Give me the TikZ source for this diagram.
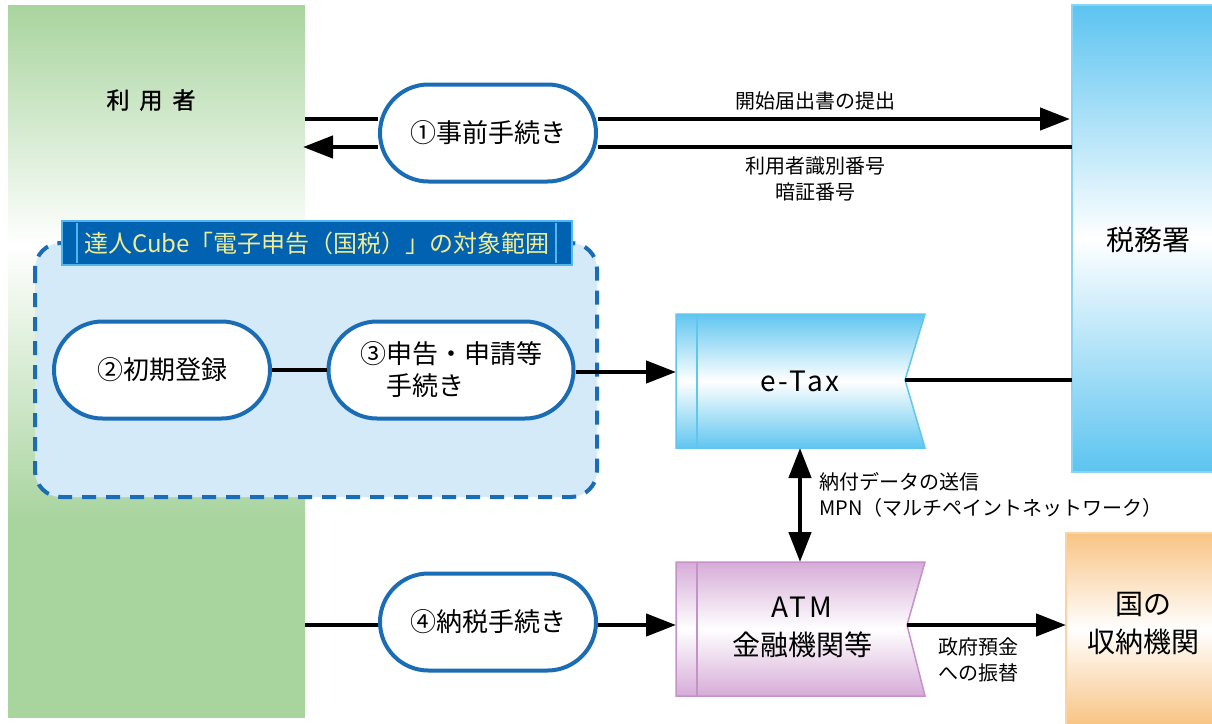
\documentclass[tikz,border=0pt]{standalone}
\usepackage{fontspec}
\setmainfont{Noto Sans CJK JP}
\newfontfamily\jpbold[FakeBold=1.2]{Noto Sans CJK JP}
\usetikzlibrary{arrows.meta,shapes.misc}
\definecolor{ugreen}{RGB}{168,212,158}
\definecolor{tblue}{RGB}{92,196,240}
\definecolor{tblueb}{RGB}{140,212,244}
\definecolor{orng}{RGB}{248,196,132}
\definecolor{orngb}{RGB}{250,212,165}
\definecolor{purp}{RGB}{214,172,216}
\definecolor{purpb}{RGB}{196,146,200}
\definecolor{pillb}{RGB}{26,108,181}
\definecolor{areaf}{RGB}{212,234,248}
\definecolor{titlef}{RGB}{0,98,176}
\definecolor{titleb}{RGB}{80,182,236}
\definecolor{titlet}{RGB}{240,236,150}
\definecolor{etaxb}{RGB}{96,198,240}
\tikzset{
  pill/.style={rounded rectangle, draw=pillb, line width=4pt, fill=white,
    minimum width=216pt, minimum height=97pt, inner sep=0pt,
    font=\fontsize{26pt}{32pt}\selectfont},
  conn/.style={line width=4.5pt, black},
  arr/.style={conn, -{Triangle[length=30pt,width=22pt]}},
  dblarr/.style={conn, {Triangle[length=30pt,width=22pt]}-{Triangle[length=30pt,width=22pt]}},
  lbl/.style={font=\fontsize{20pt}{26pt}\selectfont, align=center, inner sep=0pt},
  big/.style={font=\fontsize{28pt}{38pt}\selectfont, align=center, inner sep=0pt},
}
\begin{document}
\begin{tikzpicture}[x=1pt,y=-1pt]
\useasboundingbox (0,0) rectangle (1212,723);
\fill[white] (0,0) rectangle (1212,723);
% user panel
\shade[top color=ugreen, bottom color=white] (8,5) rectangle (305,245);
\shade[top color=white, bottom color=ugreen] (8,245) rectangle (305,520);
\fill[ugreen] (8,520) rectangle (305,718);
\node[font=\jpbold\fontsize{23pt}{26pt}\selectfont] (user) at (151,100) {利\hspace{10pt}用\hspace{10pt}者};
% tax office panel
\shade[top color=tblue, bottom color=tblue, middle color=white, draw=tblueb, line width=2pt] (1072,5) rectangle (1214,472);
\node[big] (tax) at (1148,240) {税務署};
% shuno panel
\shade[top color=orng, bottom color=orng, middle color=white, draw=orngb, line width=2pt] (1066,533) rectangle (1214,725);
\node[big] (shuno) at (1143,624) {国の\\収納機関};
% area
\draw[fill=areaf, draw=pillb, line width=4pt, dash pattern=on 14pt off 10pt, rounded corners=26pt] (35,243) rectangle (597,497);
\node[fill=titlef, draw=titleb, line width=2.5pt, minimum width=510pt, minimum height=44pt, inner sep=0pt, text=titlet, font=\fontsize{24pt}{28pt}\selectfont] (title) at (317,243) {達人Cube「電子申告（国税）」の対象範囲};
\draw[titleb, line width=2pt] (77,223) -- (77,263);
\draw[titleb, line width=2pt] (556,223) -- (556,263);
% coordinates
\coordinate (uTop) at (305,119);
\coordinate (tTop) at (1070,119);
\coordinate (uBot) at (303,147);
\coordinate (tBot) at (1072,147);
\coordinate (u4) at (305,625);
% pills
\node[pill] (p1) at (488,133) {①事前手続き};
\node[pill] (p2) at (162,370) {②初期登録};
\node[pill, minimum width=245pt, align=left] (p3) at (451,370) {③申告・申請等\\\phantom{③}手続き};
\node[pill] (p4) at (488,622) {④納税手続き};
% e-Tax shape
\shade[top color=etaxb, bottom color=etaxb, middle color=white, draw=etaxb, line width=1.5pt]
  (676,314) -- (925,314) -- (905,380) -- (925,448) -- (676,448) -- cycle;
\draw[etaxb, line width=1.5pt] (697,314) -- (697,448);
\node[font=\fontsize{28pt}{32pt}\selectfont\addfontfeature{LetterSpace=10}] (etax) at (800,381) {e-Tax};
\coordinate (etaxL) at (676,372);
\coordinate (etaxR) at (905,380);
\coordinate (etaxB) at (800,448);
\coordinate (taxL) at (1072,380);
% ATM shape
\shade[top color=purp, bottom color=purp, middle color=white, draw=purpb, line width=1.5pt]
  (676,562) -- (925,562) -- (907,625) -- (925,696) -- (676,696) -- cycle;
\draw[purpb, line width=1.5pt] (697,562) -- (697,696);
\node[big] (atm) at (802,627) {{\addfontfeature{LetterSpace=10}ATM}\\金融機関等};
\coordinate (atmL) at (676,625);
\coordinate (atmR) at (907,625);
\coordinate (atmT) at (800,562);
\coordinate (shunoL) at (1066,625);
% connectors
\draw[conn] (uTop) -- (uTop -| p1.west);
\draw[arr] (p1.east |- tTop) -- (tTop);
\draw[conn] (tBot) -- (p1.east |- tBot);
\draw[arr] (p1.west |- uBot) -- (uBot);
\draw[conn] (p2.east) -- (p3.west);
\draw[arr] (p3.east |- etaxL) -- (etaxL);
\draw[conn] (etaxR) -- (taxL);
\draw[dblarr] (etaxB) -- (atmT);
\draw[conn] (u4) -- (p4.west |- u4);
\draw[arr] (p4.east |- atmL) -- (atmL);
\draw[arr] (atmR) -- (shunoL);
% labels
\node[lbl] (l1) at (815,101) {開始届出書の提出};
\node[lbl] (l2) at (815,179) {利用者識別番号\\暗証番号};
\node[lbl, anchor=west, align=left] (l3) at (819,495) {納付データの送信\\MPN（マルチペイントネットワーク）};
\node[lbl] (l4) at (978,660) {政府預金\\への振替};
\end{tikzpicture}
\end{document}
